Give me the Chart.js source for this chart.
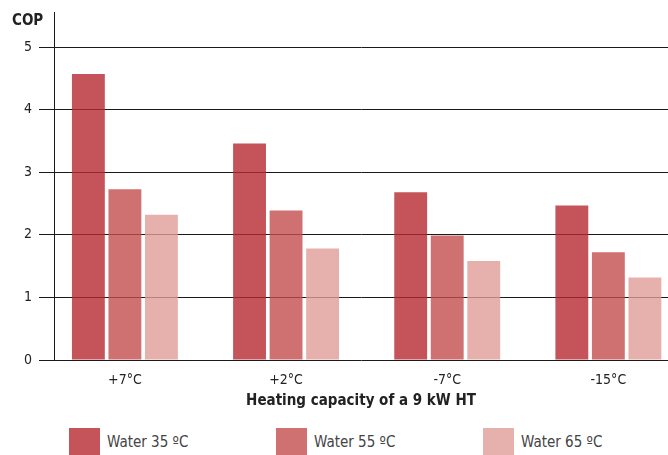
<!DOCTYPE html>
<html>
<head>
<meta charset="utf-8">
<title>COP</title>
<script src="https://cdn.jsdelivr.net/npm/chart.js@4.4.1/dist/chart.umd.min.js"></script>
<style>
  html, body { margin: 0; padding: 0; background: #fff; }
  body { width: 668px; height: 455px; position: relative; overflow: hidden; }
  #chart { position: absolute; left: 0; top: 0; }
  #legend {
    position: absolute; left: 69px; top: 428px; display: flex;
    font-family: 'DejaVu Sans Condensed', 'Liberation Sans Narrow', 'Noto Sans', sans-serif;
    font-size: 15px; color: #444;
  }
  .item { width: 207px; display: flex; align-items: center; }
  .swatch { width: 31px; height: 28px; margin-right: 7px; }
</style>
</head>
<body>
<canvas id="chart" width="668" height="412"></canvas>
<div id="legend"></div>
<script>
// COP per outdoor temperature, one series per flow water temperature
const categories = ['+7°C', '+2°C', '-7°C', '-15°C'];
const seriesLabels = ['Water 35 ºC', 'Water 55 ºC', 'Water 65 ºC'];
const water35 = [4.57, 3.46, 2.68, 2.47];
const water55 = [2.73, 2.39, 1.99, 1.72];
const water65 = [2.32, 1.78, 1.58, 1.32];
const yTicks = [0, 1, 2, 3, 4, 5];
const yTitle = 'COP';
const xTitle = 'Heating capacity of a 9 kW HT';

const colors = ['rgba(181, 41, 49, 0.8)', 'rgba(196, 78, 78, 0.8)', 'rgba(224, 158, 153, 0.8)'];
const fontFamily = "'DejaVu Sans Condensed', 'Liberation Sans Narrow', 'Noto Sans', sans-serif";

const seriesValues = [water35, water55, water65];

const datasets = seriesValues.map((values, i) => ({
    label: seriesLabels[i],
    data: values.map((v, idx) => ({ x: idx, y: v })),
    backgroundColor: colors[i],
    borderWidth: 0,
    categoryPercentage: 0.68,
    barPercentage: 0.9
}));

// "COP" label sits above the y tick labels
const yTitlePlugin = {
    id: 'yTitle',
    afterDraw(chart) {
        const ctx = chart.ctx;
        ctx.save();
        ctx.font = 'bold 15px ' + fontFamily;
        ctx.fillStyle = '#222';
        ctx.textBaseline = 'middle';
        ctx.textAlign = 'left';
        ctx.fillText(yTitle, 12, 21);
        ctx.restore();
    }
};

new Chart(document.getElementById('chart'), {
    type: 'bar',
    data: { datasets: datasets },
    plugins: [yTitlePlugin],
    options: {
        responsive: false,
        animation: false,
        layout: { padding: { top: 12, right: 0, bottom: 0, left: 0 } },
        plugins: {
            legend: { display: false },
            tooltip: { enabled: false }
        },
        scales: {
            x: {
                type: 'linear',
                offset: false,
                min: -0.44,
                max: 3.37,
                grid: { display: false },
                border: { display: false },
                afterBuildTicks: s => { s.ticks = categories.map((c, i) => ({ value: i })); },
                ticks: {
                    callback: v => categories[v],
                    color: '#222',
                    font: { family: fontFamily, size: 14 },
                    padding: 4,
                    maxRotation: 0,
                    autoSkip: false
                },
                title: {
                    display: true,
                    text: xTitle,
                    color: '#222',
                    font: { family: fontFamily, size: 15, weight: 'bold' },
                    padding: { top: 0, bottom: 2 }
                },
                afterFit: s => {
                    s.height = 52;
                    s.paddingLeft = 0;
                    s.paddingRight = 0;
                }
            },
            y: {
                min: 0,
                max: 5.56,
                afterBuildTicks: s => { s.ticks = yTicks.map(v => ({ value: v })); },
                grid: { color: '#1a1a1a', lineWidth: 1, tickLength: 15 },
                border: { display: true, color: '#1a1a1a', width: 1 },
                ticks: {
                    color: '#222',
                    font: { family: fontFamily, size: 14 },
                    padding: 7
                },
                afterFit: s => {
                    s.width = 54;
                    s.paddingTop = 0;
                    s.paddingBottom = 0;
                }
            }
        }
    }
});

// legend row under the chart
const legend = document.getElementById('legend');
seriesLabels.forEach((label, i) => {
    const item = document.createElement('div');
    item.className = 'item';
    const sw = document.createElement('div');
    sw.className = 'swatch';
    sw.style.background = colors[i];
    const txt = document.createElement('span');
    txt.textContent = label;
    item.appendChild(sw);
    item.appendChild(txt);
    legend.appendChild(item);
});
</script>
</body>
</html>
